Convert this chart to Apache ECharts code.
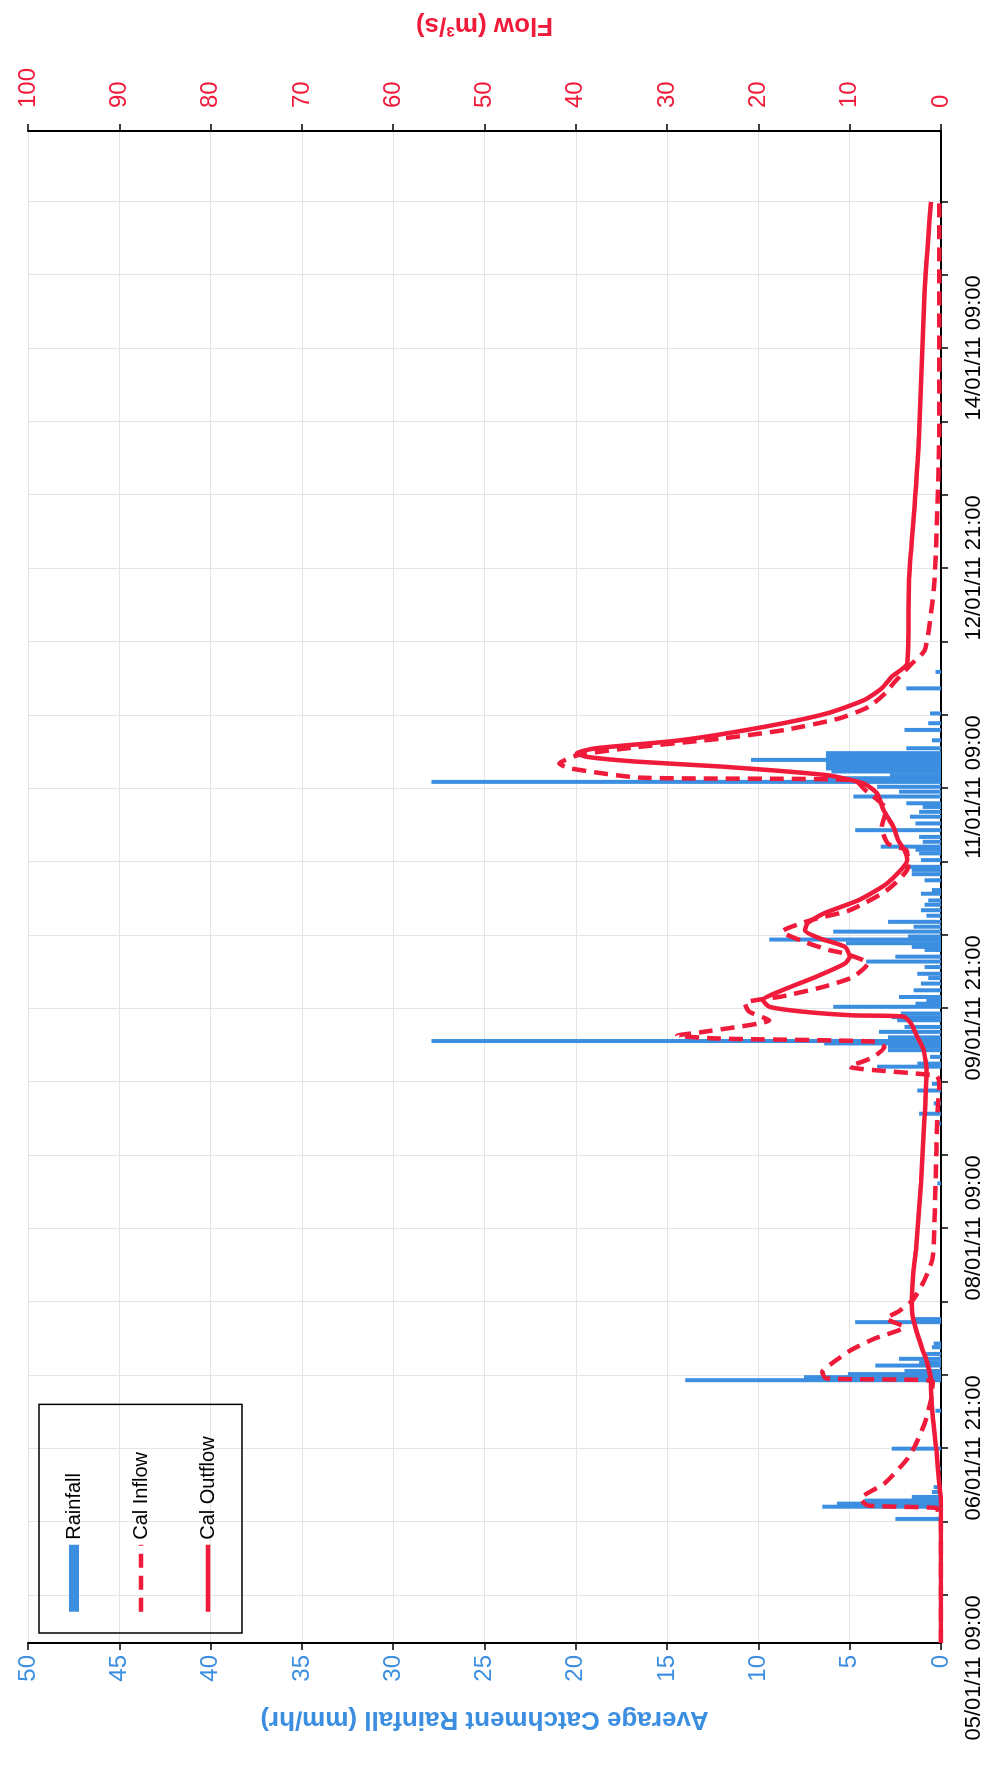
<!DOCTYPE html>
<html><head><meta charset="utf-8">
<script src="https://cdn.jsdelivr.net/npm/echarts@6/dist/echarts.min.js"></script>
<style>
html,body{margin:0;padding:0;width:1000px;height:1767px;overflow:hidden;background:#fff}
#chart{position:absolute;left:0;top:0;width:1767px;height:1000px;transform-origin:0 0;transform:translateY(1767px) rotate(-90deg)}
</style></head><body><div id="chart"></div>
<script>
// time origin 05/01/11 00:00 ; all times are hours after it
const START_UTC = Date.UTC(2011, 0, 5, 0, 0);
const AXIS_MIN_H = 1.2, AXIS_MAX_H = 248.6;
const TICK_HOURS = [9,21,33,45,57,69,81,93,105,117,129,141,153,165,177,189,201,213,225,237];
const LABEL_HOURS = [9,45,81,117,153,189,225];
const RAIN_TICKS = {min:0, max:50, step:5};
const FLOW_TICKS = {min:0, max:100, step:10};

const rainHours = [21.5,23.5,24.0,24.5,25.1,25.9,26.7,27.8,29.7,33.0,39.2,
  44.2,44.7,45.2,45.7,46.6,47.1,47.7,48.5,49.6,50.2,53.7,54.2,
  76.4,86.2,87.8,89.5,91.6,92.7,
  95.5,96.0,97.1,98.2,98.8,99.3,99.7,100.3,101.2,102.0,103.1,103.6,104.2,105.3,105.8,106.4,106.9,108.0,109.1,110.0,110.7,111.8,112.7,113.5,114.6,115.1,115.7,116.3,116.8,117.6,118.4,119.2,120.2,121.1,122.0,122.7,123.8,124.4,126.0,127.0,127.7,128.2,129.3,130.4,131.0,
  131.5,132.3,133.1,134.2,135.3,136.4,137.2,138.0,138.6,139.7,140.5,141.3,142.1,142.7,143.2,143.8,144.3,144.8,145.3,145.7,146.2,146.8,147.6,148.9,150.6,151.7,153.3,157.4,160.1];
const rainMm = [2.5,6.5,5.7,4.2,1.6,0.5,0.4,0.2,0.2,2.7,0.3,
  14.0,7.5,5.1,2.0,3.6,1.2,2.3,0.8,0.5,0.4,4.7,1.5,
  0.2,0.2,1.2,0.4,1.3,0.5,
  3.5,1.3,0.6,2.9,2.9,6.4,27.9,2.9,3.4,2.0,2.4,2.7,2.2,5.9,1.4,0.8,2.3,1.5,1.1,0.7,1.3,0.9,4.1,2.5,0.9,1.6,5.2,9.4,1.8,5.9,1.5,2.9,0.8,1.1,0.9,0.7,1.1,0.5,0.9,1.6,1.6,2.1,1.1,1.2,1.4,
  3.3,1.0,1.2,4.7,1.4,1.7,1.2,1.0,1.9,4.8,2.3,3.5,27.9,6.3,2.8,6.0,6.3,6.3,6.3,10.4,6.3,6.3,1.9,0.5,2.0,0.7,0.6,1.9,0.3];

const inflowHours = [1.2,21.0,22.5,23.3,23.7,24.8,27.3,31.1,33.3,37.1,40.9,44.0,44.5,45.6,46.9,49.1,51.0,52.9,54.3,55.5,57.3,60.6,64.4,76.4,87.3,92.7,94.0,95.5,97.0,98.7,99.6,100.1,100.6,101.2,103.1,104.5,105.9,107.0,108.6,110.2,112.4,114.0,114.6,116.0,117.6,119.5,121.1,124.4,128.2,130.9,132.0,134.7,137.5,140.9,142.4,142.8,144.3,145.1,146.5,147.8,149.2,150.6,152.5,154.4,156.6,158.4,161.3,163.6,169.5,175.3,187.0,198.7,237.0];
const inflowQ = [0,0,0.3,0.5,8.0,8.8,6.2,3.8,2.9,1.8,1.1,0.9,12.6,13.0,12.0,9.9,7.3,4.0,6.0,4.6,3.1,1.8,0.9,0.6,0.4,0.2,0.5,10.0,7.5,6.2,7.3,24.3,28.9,26.0,18.8,21.0,21.5,17.4,12.8,9.6,8.0,10.5,12.3,15.1,17.4,14.2,10.0,5.9,3.6,3.8,5.8,6.5,6.0,8.4,9.5,33.0,40.6,41.8,39.7,33.2,24.0,17.1,11.1,7.9,6.1,5.1,3.3,1.8,1.1,0.7,0.4,0.2,0.2];

const outflowHours = [1.2,24.5,27.3,32.7,38.2,42.6,44.2,47.5,49.1,51.8,54.6,57.3,62.2,65.5,76.4,87.3,94.9,98.2,100.4,102.6,103.7,103.9,104.5,105.3,106.4,108.0,110.2,112.4,113.5,115.1,116.5,117.8,119.0,120.6,122.7,125.5,129.3,130.9,132.6,134.7,137.5,140.2,141.8,143.2,144.6,145.4,146.2,146.8,147.6,148.9,151.1,153.3,155.5,157.4,159.3,161.5,175.3,187.0,198.7,222.0,237.0];
const outflowQ = [0,0,0.2,0.5,0.9,1.1,1.1,1.6,2.0,2.6,3.1,3.2,3.0,2.75,2.2,1.8,1.6,1.9,2.6,3.3,4.1,9.6,15.1,18.8,19.5,17.4,13.7,10.5,10.0,10.5,13.3,14.9,14.6,12.8,9.1,5.9,3.7,4.0,4.7,5.2,6.3,7.0,8.4,12.5,24.0,33.2,38.8,39.9,37.8,28.6,19.4,12.5,8.4,6.5,5.4,3.7,3.5,2.9,2.4,1.8,1.1];

const pairs = (hs, vs) => hs.map((h, i) => [h, vs[i]]);
const p2 = n => String(n).padStart(2, '0');
function fmt(h) {
  const d = new Date(START_UTC + Math.round(h * 3600000));
  return p2(d.getUTCDate()) + '/' + p2(d.getUTCMonth() + 1) + '/' + String(d.getUTCFullYear()).slice(2) + ' ' + p2(d.getUTCHours()) + ':' + p2(d.getUTCMinutes());
}

const BLUE = '#3b8ee0', RED = '#f01a3a', GRID = '#e4e4e4';
const FONT = 'Liberation Sans, Arial, sans-serif';
const DASH = [14, 8];

const chart = echarts.init(document.getElementById('chart'));
chart.setOption({
  animation: false,
  backgroundColor: '#fff',
  textStyle: {fontFamily: FONT},
  grid: {left: 124, right: 131, top: 28, bottom: 59},
  legend: {
    orient: 'vertical', left: 134, top: 39,
    borderColor: '#000', borderWidth: 1.5, borderRadius: 0,
    padding: [25, 32, 24, 19],
    itemWidth: 67, itemHeight: 10, itemGap: 47,
    textStyle: {fontSize: 20, color: '#000', fontFamily: FONT},
    data: [
      {name: 'Rainfall', icon: 'rect'},
      {name: 'Cal Inflow', itemStyle: {opacity: 0}, lineStyle: {width: 4.5, type: DASH, color: RED}},
      {name: 'Cal Outflow', itemStyle: {opacity: 0}, lineStyle: {width: 4.5, color: RED}}
    ]
  },
  xAxis: {
    type: 'value', min: AXIS_MIN_H, max: AXIS_MAX_H,
    axisLine: {show: true, lineStyle: {color: '#000', width: 2}},
    axisTick: {show: true, customValues: TICK_HOURS, length: 7, lineStyle: {color: '#000', width: 1.5}},
    axisLabel: {customValues: LABEL_HOURS, formatter: fmt, fontSize: 22, color: '#000', margin: 22, align: 'right', fontFamily: FONT},
    splitLine: {show: true, lineStyle: {color: GRID, width: 1}}
  },
  yAxis: [{
    type: 'value', position: 'left', min: RAIN_TICKS.min, max: RAIN_TICKS.max, interval: RAIN_TICKS.step,
    name: 'Average Catchment Rainfall (mm/hr)', nameLocation: 'middle', nameRotate: 90, nameGap: 63,
    nameTextStyle: {color: BLUE, fontSize: 26, fontWeight: 'bold', fontFamily: FONT},
    axisLine: {show: true, lineStyle: {color: '#000', width: 2}},
    axisTick: {show: true, length: 7, lineStyle: {color: '#000', width: 1.5}},
    axisLabel: {color: BLUE, fontSize: 24, margin: 12, fontFamily: FONT},
    splitLine: {show: true, lineStyle: {color: GRID, width: 1}}
  }, {
    type: 'value', position: 'right', min: FLOW_TICKS.min, max: FLOW_TICKS.max, interval: FLOW_TICKS.step,
    name: 'Flow (m³/s)', nameLocation: 'middle', nameRotate: 90, nameGap: 93,
    nameTextStyle: {color: RED, fontSize: 26, fontWeight: 'bold', fontFamily: FONT},
    axisLine: {show: true, lineStyle: {color: '#000', width: 2}},
    axisTick: {show: true, length: 7, lineStyle: {color: '#000', width: 1.5}},
    axisLabel: {color: RED, fontSize: 24, margin: 23, fontFamily: FONT},
    splitLine: {show: false}
  }],
  series: [{
    name: 'Rainfall', type: 'bar', xAxisIndex: 0, yAxisIndex: 0, barWidth: 4,
    itemStyle: {color: BLUE}, data: pairs(rainHours, rainMm), z: 2
  }, {
    name: 'Cal Inflow', type: 'line', xAxisIndex: 0, yAxisIndex: 1, symbol: 'none', showSymbol: false, smooth: 0.2,
    lineStyle: {color: RED, width: 4.5, type: DASH}, itemStyle: {color: RED}, data: pairs(inflowHours, inflowQ), z: 3
  }, {
    name: 'Cal Outflow', type: 'line', xAxisIndex: 0, yAxisIndex: 1, symbol: 'none', showSymbol: false, smooth: 0.2,
    lineStyle: {color: RED, width: 4.5}, itemStyle: {color: RED}, data: pairs(outflowHours, outflowQ), z: 4
  }]
});
</script></body></html>
